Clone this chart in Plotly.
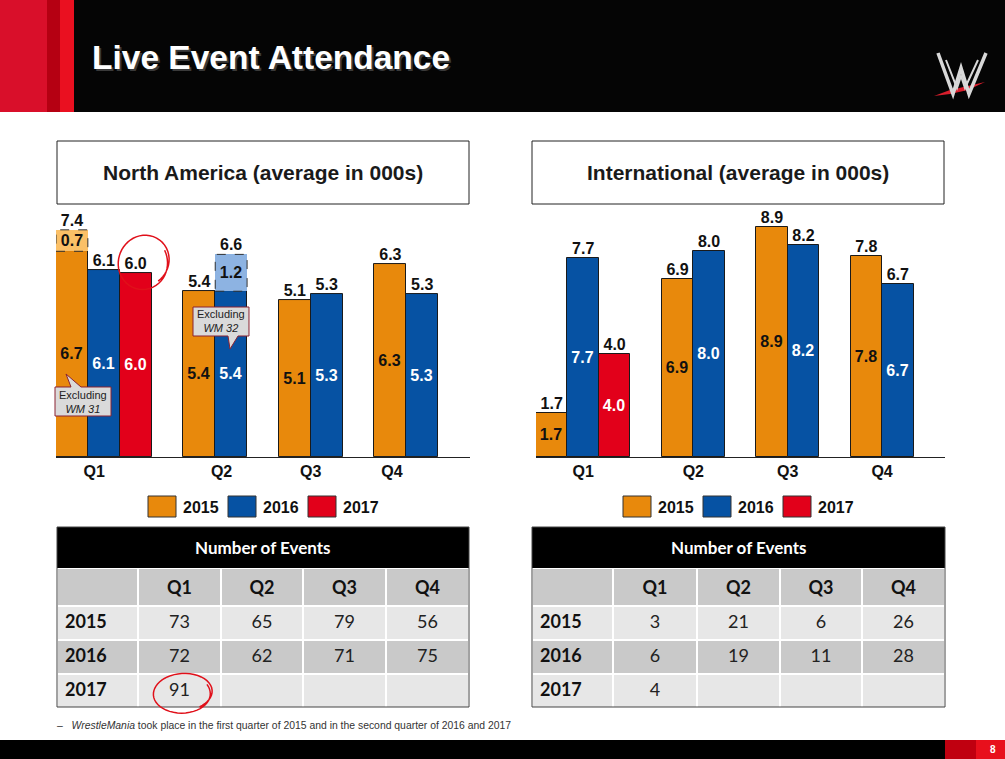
import numpy as np
import plotly.graph_objects as go

# ---------------- DATA ----------------
QUARTERS = ["Q1", "Q2", "Q3", "Q4"]
YEARS = ["2015", "2016", "2017"]

# North America average attendance (000s), excluding WrestleMania
NA_2015 = [6.7, 5.4, 5.1, 6.3]
NA_2016 = [6.1, 5.4, 5.3, 5.3]
NA_2017 = [6.0, None, None, None]
# WrestleMania increment on top
NA_WM_2015 = [0.7, None, None, None]
NA_WM_2016 = [None, 1.2, None, None]
NA_WM_2017 = [None, None, None, None]

# International average attendance (000s)
INTL_2015 = [1.7, 6.9, 8.9, 7.8]
INTL_2016 = [7.7, 8.0, 8.2, 6.7]
INTL_2017 = [4.0, None, None, None]

# Number of events
NA_EVENTS_2015 = [73, 65, 79, 56]
NA_EVENTS_2016 = [72, 62, 71, 75]
NA_EVENTS_2017 = [91, None, None, None]
INTL_EVENTS_2015 = [3, 21, 6, 26]
INTL_EVENTS_2016 = [6, 19, 11, 28]
INTL_EVENTS_2017 = [4, None, None, None]

CALLOUT_TEXTS = ["WM 31", "WM 32"]

# ---------------- STYLE ----------------
W, H = 1005, 759
ORANGE, BLUE, RED = "#E8890C", "#0652A3", "#E2001A"
LIGHT = {"2015": "#FBC067", "2016": "#8DB3E2", "2017": "#F58A95"}
SER_COLORS = [ORANGE, BLUE, RED]
IN_TXT = ["#111111", "white", "white"]
ARIAL = "Liberation Sans, Arial, sans-serif"
CAL = "Lato, Carlito, Open Sans, sans-serif"
LBL = 16


def px(x):
    return x / W


def py(y):
    return 1 - y / H


def slot_positions(series):
    pos = [[None] * 4 for _ in series]
    s = 0
    for q in range(4):
        for k, vals in enumerate(series):
            if vals[q] is not None:
                pos[k][q] = s
                s += 1
        s += 1
    return pos, s - 1


fig = go.Figure()
shapes, annos = [], []


def txt(x, y, text, font, xanchor="center", yanchor="middle"):
    annos.append(dict(xref="paper", yref="paper", x=px(x), y=py(y), xanchor=xanchor,
                      yanchor=yanchor, text=text, showarrow=False, font=font))


def add_chart(series, wm_series, xa, ya, x_dom, base_y, unit_px, y_max, tickpos):
    pos, nslots = slot_positions(series)
    xaxis_name = "xaxis" if xa == "x" else "xaxis" + xa[1:]
    yaxis_name = "yaxis" if ya == "y" else "yaxis" + ya[1:]
    top_y = base_y - y_max * unit_px
    for k, vals in enumerate(series):
        xs = [pos[k][q] for q in range(4) if vals[q] is not None]
        ys = [vals[q] for q in range(4) if vals[q] is not None]
        fig.add_trace(go.Bar(
            x=xs, y=ys, width=1, xaxis=xa, yaxis=ya, showlegend=False,
            marker=dict(color=SER_COLORS[k], line=dict(color="#1a1a1a", width=1)),
            text=[f"{v:.1f}" for v in ys], textposition="inside",
            insidetextanchor="middle", constraintext="none", textangle=0,
            textfont=dict(family=ARIAL, size=LBL, color=IN_TXT[k], weight="bold"),
            hoverinfo="skip"))
        wm = wm_series[k]
        wx = [pos[k][q] for q in range(4) if wm[q] is not None]
        wb = [vals[q] for q in range(4) if wm[q] is not None]
        wy = [wm[q] for q in range(4) if wm[q] is not None]
        if wx:
            fig.add_trace(go.Bar(
                x=wx, y=wy, base=wb, width=1, xaxis=xa, yaxis=ya, showlegend=False,
                marker=dict(color=LIGHT[YEARS[k]], line=dict(width=0)),
                text=[f"{v:.1f}" for v in wy], textposition="inside",
                insidetextanchor="middle", constraintext="none", textangle=0,
                textfont=dict(family=ARIAL, size=LBL, color="#111111", weight="bold"),
                hoverinfo="skip"))
            for x0, b, v in zip(wx, wb, wy):
                shapes.append(dict(type="rect", xref=xa, yref=ya, x0=x0 - 0.5, x1=x0 + 0.5,
                                   y0=b, y1=b + v, line=dict(color="#333333", width=1, dash="dash"),
                                   layer="above"))
        tot = [vals[q] + (wm[q] or 0) for q in range(4) if vals[q] is not None]
        fig.add_trace(go.Scatter(
            x=xs, y=tot, mode="text", text=[f"{v:.1f}" for v in tot],
            textposition="top center", xaxis=xa, yaxis=ya, showlegend=False,
            cliponaxis=False, hoverinfo="skip",
            textfont=dict(family=ARIAL, size=LBL, color="#111111", weight="bold")))
    fig.layout[xaxis_name] = dict(
        domain=[px(x_dom[0]), px(x_dom[1])], range=[-0.5, nslots + 0.5], anchor=ya,
        showline=True, linecolor="#222222", linewidth=1, showgrid=False, zeroline=False,
        ticks="", tickvals=tickpos, ticktext=QUARTERS, fixedrange=True,
        tickfont=dict(family=ARIAL, size=LBL, color="#111111", weight="bold"))
    fig.layout[yaxis_name] = dict(
        domain=[py(base_y), py(top_y)], range=[0, y_max], anchor=xa, visible=False,
        fixedrange=True)
    return pos


NA_SERIES = [NA_2015, NA_2016, NA_2017]
NA_WM = [NA_WM_2015, NA_WM_2016, NA_WM_2017]
INTL_SERIES = [INTL_2015, INTL_2016, INTL_2017]
NO_WM = [[None] * 4] * 3

add_chart(NA_SERIES, NA_WM, "x", "y", (56, 470), 457, 30.7, 8.5, [0.7, 4.7, 7.5, 10.05])
intl_pos, _ = slot_positions(INTL_SERIES)
intl_ticks = [float(np.mean([p[q] for p in intl_pos if p[q] is not None])) for q in range(4)]
add_chart(INTL_SERIES, NO_WM, "x2", "y2", (536, 945), 457, 25.8, 10, intl_ticks)


def rect(x0, y0, x1, y1, fill, line=None, layer="above"):
    shapes.append(dict(type="rect", xref="paper", yref="paper", x0=px(x0), x1=px(x1),
                       y0=py(y1), y1=py(y0), fillcolor=fill,
                       line=line or dict(width=0), layer=layer))


def ppath(points, close=True):
    s = "M " + " L ".join(f"{px(x):.5f},{py(y):.5f}" for x, y in points)
    return s + (" Z" if close else "")


# ---------------- HEADER / FOOTER ----------------
rect(0, 0, W, 112, "#050505", layer="below")
rect(0, 0, 47, 112, "#D90F2A", layer="below")
rect(47, 0, 60, 112, "#B50012", layer="below")
rect(60, 0, 74, 112, "#EA1020", layer="below")
rect(0, 740, W, H, "#000000")
rect(945, 740, 976, H, "#C00010")
rect(976, 740, W, H, "#E8101C")

# WWE-like logo
shapes.append(dict(type="path", xref="paper", yref="paper",
                   path=ppath([(934, 96), (950, 90), (968, 86), (985, 82), (968, 90), (950, 94)]),
                   fillcolor="#D81E2C", line=dict(width=0)))
for pts, wdt in [([(938, 53), (953, 94), (961, 68), (969, 94), (986, 53)], 3.5),
                 ([(946, 60), (957, 88), (961, 76), (965, 88), (978, 60)], 2)]:
    shapes.append(dict(type="path", xref="paper", yref="paper", path=ppath(pts, close=False),
                       line=dict(color="#D8D8D8", width=wdt)))

txt(92, 60, "<b>Live Event Attendance</b>", dict(family=ARIAL, size=33.5, color="#3a3a3a"), "left")
txt(90, 58, "<b>Live Event Attendance</b>", dict(family=ARIAL, size=33.5, color="white"), "left")
txt(993, 749.5, "<b>8</b>", dict(family=ARIAL, size=10, color="white"))
txt(55, 725, "–   <i>WrestleMania</i> took place in the first quarter of 2015 and in the second quarter of 2016 and 2017",
    dict(family=ARIAL, size=10.4, color="#333333"), "left")

# ---------------- CHART TITLES & LEGENDS ----------------
for x0, title in [(57, "North America (average in 000s)"), (532, "International (average in 000s)")]:
    rect(x0, 141, x0 + 412, 204, "white", dict(color="#222222", width=1))
    txt(x0 + 206, 172, f"<b>{title}</b>", dict(family=ARIAL, size=21, color="#1a1a1a"))
    lx = x0 + 91
    for k, yr in enumerate(YEARS):
        sx = lx + k * 80
        rect(sx, 496, sx + 28, 517, SER_COLORS[k], dict(color="#333333", width=1))
        txt(sx + 33, 507, f"<b>{yr}</b>", dict(family=ARIAL, size=LBL, color="#111111"), "left")

# ---------------- CALLOUTS ----------------
callouts = [
    dict(box=(55, 387, 111, 416), tail=[(55, 387), (71, 387), (66, 374), (81, 387), (111, 387),
                                       (111, 416), (55, 416)], text=CALLOUT_TEXTS[0]),
    dict(box=(193, 307, 249, 336), tail=[(193, 307), (249, 307), (249, 336), (238, 336), (230, 349),
                                         (228, 336), (193, 336)], text=CALLOUT_TEXTS[1]),
]
for c in callouts:
    shapes.append(dict(type="path", xref="paper", yref="paper", path=ppath(c["tail"]),
                       fillcolor="#DADADA", line=dict(color="#8B2332", width=1)))
    bx0, by0, bx1, by1 = c["box"]
    txt((bx0 + bx1) / 2, (by0 + by1) / 2, f"Excluding<br><i>{c['text']}</i>",
        dict(family=ARIAL, size=11, color="#222222"))


# ---------------- TABLES ----------------
def add_table(x0, e15, e16, e17, colw):
    x1 = x0 + sum(colw)
    rect(x0, 527, x1, 568, "black")
    txt((x0 + x1) / 2, 547, "<b>Number of Events</b>", dict(family=CAL, size=17, color="white"))
    light, dark = "#E7E7E7", "#C9C9C9"
    cols = [YEARS]
    for q in range(4):
        cols.append([("" if v[q] is None else str(v[q])) for v in (e15, e16, e17)])
    fig.add_trace(go.Table(
        domain=dict(x=[px(x0), px(x1)], y=[py(712), py(568)]),
        columnwidth=colw,
        header=dict(values=[""] + [f"<b>{q}</b>" for q in QUARTERS], fill_color=dark,
                    line=dict(color="white", width=2), align="center", height=36,
                    font=dict(family=CAL, size=18, color="#111111")),
        cells=dict(values=cols, fill_color=[[light, dark, light]] * 5,
                   line=dict(color="white", width=2),
                   align=["left"] + ["center"] * 4, height=34,
                   font=dict(family=CAL, size=18, color=["#111111"] + ["#222222"] * 4,
                             weight=["bold"] + ["normal"] * 4))))
    shapes.append(dict(type="rect", xref="paper", yref="paper", x0=px(x0), x1=px(x1),
                       y0=py(707), y1=py(527), line=dict(color="#444444", width=1)))


add_table(57, NA_EVENTS_2015, NA_EVENTS_2016, NA_EVENTS_2017, [81, 83, 82, 83, 83])
add_table(532, INTL_EVENTS_2015, INTL_EVENTS_2016, INTL_EVENTS_2017, [81, 84, 83, 82, 83])


# ---------------- HAND-DRAWN CIRCLES ----------------
def scribble(cx, cy, rx, ry):
    t = np.linspace(-0.9, 2 * np.pi + 0.5, 60)
    r = 1 + 0.06 * np.sin(1.7 * t)
    pts = [(cx + rx * r[i] * np.cos(tt), cy - ry * r[i] * np.sin(tt)) for i, tt in enumerate(t)]
    return ppath(pts, close=False)


shapes.append(dict(type="path", xref="paper", yref="paper", path=scribble(143, 262, 26, 26),
                   line=dict(color="#E0101A", width=1.5)))
shapes.append(dict(type="path", xref="paper", yref="paper", path=scribble(182, 693, 30, 19),
                   line=dict(color="#E0101A", width=1.5)))

fig.update_layout(
    width=W, height=H, margin=dict(l=0, r=0, t=0, b=0, pad=0),
    paper_bgcolor="white", plot_bgcolor="rgba(0,0,0,0)",
    barmode="overlay", bargap=0, showlegend=False,
    shapes=shapes, annotations=annos, hovermode=False,
)
fig.write_html("out.html", config={"displayModeBar": False})
